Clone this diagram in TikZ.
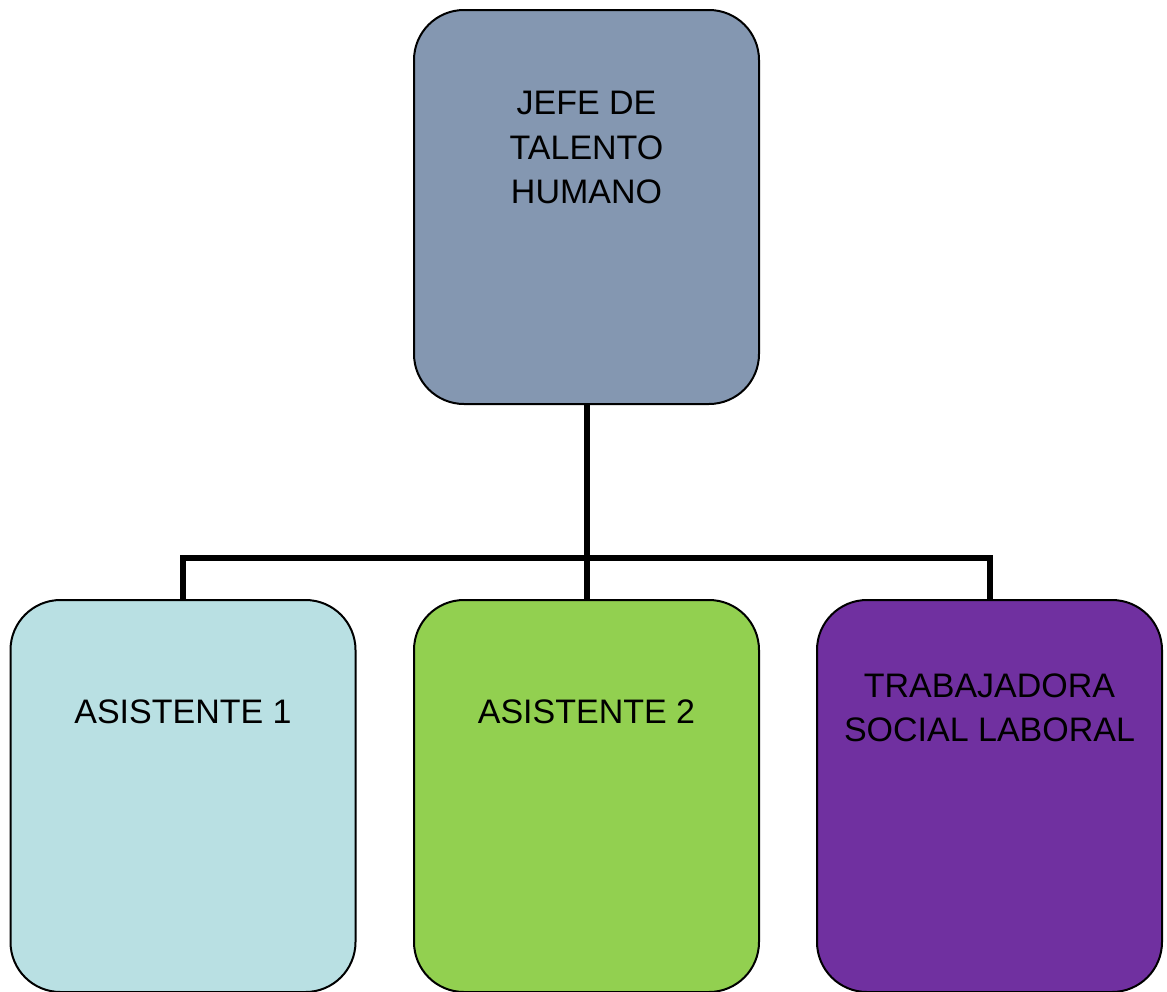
\documentclass[tikz,border=0pt]{standalone}
\usepackage{fontspec}
\setmainfont{Liberation Sans}
\definecolor{jefe}{RGB}{132,151,177}
\definecolor{celeste}{RGB}{185,224,227}
\definecolor{verde}{RGB}{146,208,80}
\definecolor{morado}{RGB}{112,48,160}
\begin{document}
\begin{tikzpicture}[x=1pt,y=1pt,
  box/.style={draw=black,line width=2pt,rounded corners=50pt,
    minimum width=345pt,inner sep=0pt,outer sep=0pt},
  lbl/.style={align=center,inner sep=0pt,font=\fontsize{34}{44.5}\selectfont},
  conn/.style={line width=6pt,line join=miter}]
\useasboundingbox (0,0) rectangle (1167,-991);
% boxes
\node[box,fill=jefe,minimum height=394pt] (jefe) at (586.5,-207) {};
\node[box,fill=celeste,minimum height=392pt] (as1) at (183,-796) {};
\node[box,fill=verde,minimum height=392pt] (as2) at (586.5,-796) {};
\node[box,fill=morado,minimum height=392pt] (ts) at (989.5,-796) {};
% texts
\node[lbl] (tjefe) at (586.5,-147.5) {JEFE DE\\TALENTO\\HUMANO};
\node[lbl] (tas1) at (183,-712) {ASISTENTE 1};
\node[lbl] (tas2) at (586.5,-712) {ASISTENTE 2};
\node[lbl] (tts) at (989.5,-708) {TRABAJADORA\\SOCIAL LABORAL};
% connectors
\coordinate (bus) at (586.5,-558);
\draw[conn] (jefe.south) -- (as2.north);
\draw[conn] (as1.north) |- (bus) -| (ts.north);
\end{tikzpicture}
\end{document}
